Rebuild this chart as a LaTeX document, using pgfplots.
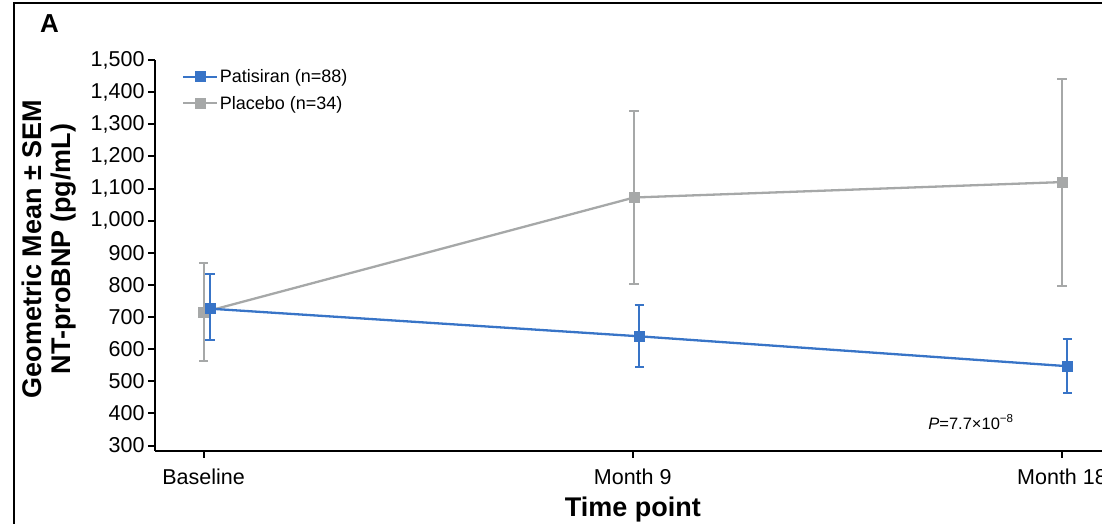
\documentclass[border=0pt]{standalone}
\usepackage{fontspec}
\setmainfont{Liberation Sans}
\usepackage{pgfplots}
\pgfplotsset{compat=1.18}
\usepackage{pgfplotstable}

\definecolor{patiblue}{RGB}{56,116,199}
\definecolor{placgray}{RGB}{166,168,168}

% Geometric mean NT-proBNP (pg/mL) with upper / lower SEM extents
\pgfplotstableread{
x      y     ep   em
0.000  715   154  152
1.003  1072  270  268
2.000  1120  321  323
}\placebo
\pgfplotstableread{
x      y     ep   em
0.015  726   108  97
1.015  640   96   97
2.012  547   85   84
}\patisiran

\begin{document}
\begin{tikzpicture}
\useasboundingbox (0,0) rectangle (1102pt,524pt);
\clip (0,0) rectangle (1102pt,524pt);

% panel frame
\draw[line width=2pt] (14pt,-20pt) -- (14pt,521pt) -- (1140pt,521pt);
\node[anchor=base west, inner sep=0pt, font=\fontsize{26}{28}\selectfont\bfseries] at (40pt,491pt) {A};

\begin{axis}[
  at={(155pt,73pt)}, anchor=south west,
  scale only axis, width=955.5pt, height=391pt,
  xmin=-0.113, xmax=2.113, ymin=283, ymax=1500,
  axis lines=left,
  axis line style={-, line width=2.5pt, black},
  tick align=outside,
  major tick length=7pt,
  tick style={line width=2pt, black},
  xtick={0,1,2},
  xticklabels={Baseline, Month 9, Month 18},
  ytick={300,400,...,1500},
  /pgf/number format/.cd, 1000 sep={,}, assume math mode=true,
  /pgfplots/.cd,
  ticklabel style={font=\fontsize{21.5}{24}\selectfont, black},
  xticklabel style={yshift=-7pt},
  xlabel={Time point},
  xlabel style={at={(axis description cs:0.5,0)}, anchor=base, yshift=-66pt,
    font=\fontsize{27}{30}\selectfont\bfseries},
  ylabel={Geometric Mean ± SEM\\NT-proBNP (pg/mL)},
  ylabel style={at={(axis description cs:-0.1105,0.517)}, anchor=center, rotate=0,
    align=center, font=\fontsize{27}{29}\selectfont\bfseries},
  legend style={draw=none, fill=none, inner sep=0pt,
    at={(axis description cs:0.028,0.98)}, anchor=north west,
    font=\fontsize{18}{20}\selectfont, row sep=9pt,
    nodes={inner sep=1.5pt}},
  legend cell align=left,
  reverse legend,
  legend image code/.code={
    \draw[#1, mark repeat=2, mark phase=2] plot coordinates {(0pt,0pt) (17pt,0pt) (34pt,0pt)};
  },
]

\addplot[color=placgray, line width=2.3pt, mark=square*, mark size=5pt,
  mark options={line width=0.6pt},
  error bars/.cd, y dir=both, y explicit,
  error bar style={line width=2pt, placgray},
  error mark options={rotate=90, mark size=4.6pt, line width=2pt, placgray}]
  table[x=x, y=y, y error plus=ep, y error minus=em] {\placebo};
\addlegendentry{Placebo (n=34)}

\addplot[color=patiblue, line width=2.3pt, mark=square*, mark size=5pt,
  mark options={line width=0.6pt},
  error bars/.cd, y dir=both, y explicit,
  error bar style={line width=2pt, patiblue},
  error mark options={rotate=90, mark size=4.6pt, line width=2pt, patiblue}]
  table[x=x, y=y, y error plus=ep, y error minus=em] {\patisiran};
\addlegendentry{Patisiran (n=88)}

\node[anchor=base, inner sep=0pt, font=\fontsize{16.5}{18}\selectfont]
  at (axis cs:1.788,351) {\textit{P}=7.7×10\textsuperscript{−8}};
\end{axis}
\end{tikzpicture}
\end{document}
